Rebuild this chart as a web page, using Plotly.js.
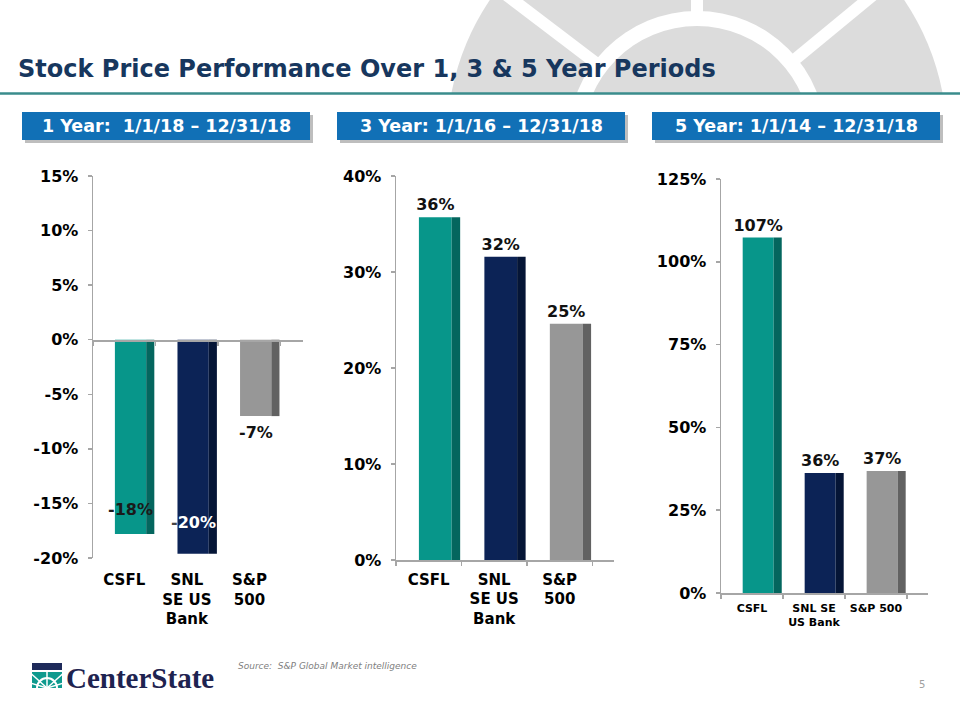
<!DOCTYPE html>
<html>
<head>
<meta charset="utf-8">
<script src="https://cdn.plot.ly/plotly-3.0.1.min.js"></script>
<style>html,body{margin:0;padding:0;background:#fff;}#chart{width:960px;height:720px;}</style>
</head>
<body>
<div id="chart"></div>
<script>
// ---------- data ----------
const CAT_IDX = [0, 1, 2];
const CATS_A = ['CSFL', 'SNL<br>SE US<br>Bank', 'S&P<br>500'];
const CATS_B = ['CSFL', 'SNL SE<br>US Bank', 'S&P 500'];

const Y1_VALUES = [-17.8, -19.6, -7.0];
const Y1_LABELS = ['-18%', '-20%', '-7%'];
const Y3_VALUES = [35.7, 31.6, 24.6];
const Y3_LABELS = ['36%', '32%', '25%'];
const Y5_VALUES = [107.3, 36.2, 36.8];
const Y5_LABELS = ['107%', '36%', '37%'];

const Y1_TICKS = [-20, -15, -10, -5, 0, 5, 10, 15];
const Y1_TICKTEXT = ['-20%', '-15%', '-10%', '-5%', '0%', '5%', '10%', '15%'];
const Y3_TICKS = [0, 10, 20, 30, 40];
const Y3_TICKTEXT = ['0%', '10%', '20%', '30%', '40%'];
const Y5_TICKS = [0, 25, 50, 75, 100, 125];
const Y5_TICKTEXT = ['0%', '25%', '50%', '75%', '100%', '125%'];

const PANEL_TITLES = ['1 Year:\u00a0 1/1/18 \u2013 12/31/18', '3 Year: 1/1/16 \u2013 12/31/18', '5 Year: 1/1/14 \u2013 12/31/18'];

// ---------- style ----------
const FRONT = ['#07968A', '#0C2356', '#979797'];
const SIDE = ['#04665E', '#051536', '#626262'];
const FONT = 'DejaVu Sans, Verdana, sans-serif';
const AXC = '#A6A6A6';
const W = 960, H = 720;
const px = v => v / W;
const py = v => 1 - v / H;

function barPair(vals, xa, ya, text, sideXa) {
  const front = {
    type: 'bar', x: CAT_IDX, y: vals, xaxis: xa, yaxis: ya,
    width: 0.5, offset: -0.15,
    marker: {color: FRONT, line: {width: 0}},
    hoverinfo: 'skip', cliponaxis: false
  };
  if (text) {
    front.text = text;
    front.textposition = 'outside';
    front.textangle = 0;
    front.constraintext = 'none';
    front.textfont = {family: FONT, size: 16, weight: 700, color: '#111'};
  }
  const side = {
    type: 'bar', x: CAT_IDX, y: vals, xaxis: sideXa || xa, yaxis: ya,
    width: 0.13, offset: 0.35,
    marker: {color: SIDE, line: {width: 0}},
    hoverinfo: 'skip', cliponaxis: false
  };
  return [front, side];
}

const data = [
  ...barPair(Y1_VALUES, 'x', 'y', null, 'x4'),
  ...barPair(Y3_VALUES, 'x2', 'y2', Y3_LABELS),
  ...barPair(Y5_VALUES, 'x3', 'y3', Y5_LABELS)
];

function yax(domain, range, tv, tt) {
  return {
    domain: domain, range: range, tickvals: tv, ticktext: tt,
    showline: true, linecolor: AXC, linewidth: 1.5,
    ticks: 'outside', ticklen: 4, tickcolor: AXC, tickwidth: 1.5,
    showgrid: false, zeroline: false, fixedrange: true,
    tickfont: {family: FONT, size: 16, weight: 700, color: '#000'},
    ticklabelstandoff: 6
  };
}
function xax(domain, anchor, ticktext, size, showline, rangeMax, standoff) {
  return {
    domain: domain, anchor: anchor, range: [-0.5, rangeMax],
    tickmode: 'array', tickvals: CAT_IDX, ticktext: ticktext, ticks: '',
    showline: showline, linecolor: AXC, linewidth: 1.5,
    showgrid: false, zeroline: false, fixedrange: true,
    tickfont: {family: FONT, size: size, weight: 700, color: '#000'},
    ticklabelstandoff: standoff,
    minor: showline ? {tickvals: [-0.5, 0.5, 1.5, 2.5], ticks: 'outside', ticklen: 4, tickcolor: AXC, tickwidth: 1.5, showgrid: false} : undefined
  };
}

// ---------- decorative shapes ----------
const shapes = [];
const CX = 697, CY = 140;
function circ(r, color) {
  shapes.push({type: 'circle', xref: 'paper', yref: 'paper', layer: 'below',
    x0: px(CX - r), x1: px(CX + r), y0: py(CY + r), y1: py(CY - r),
    fillcolor: color, line: {width: 0}});
}
circ(250, '#DCDCDC');
circ(129, '#FFFFFF');
circ(114, '#DCDCDC');
[[0, -1], [-184, -140], [170, -140]].forEach(d => {
  const L = Math.hypot(d[0], d[1]);
  const ux = d[0] / L, uy = d[1] / L;
  shapes.push({type: 'line', xref: 'paper', yref: 'paper', layer: 'below',
    x0: px(CX + ux * 125), y0: py(CY + uy * 125), x1: px(CX + ux * 270), y1: py(CY + uy * 270),
    line: {color: '#FFFFFF', width: 12}});
});
shapes.push({type: 'rect', xref: 'paper', yref: 'paper', layer: 'below',
  x0: 0, x1: 1, y0: 0, y1: py(94), fillcolor: '#FFFFFF', line: {width: 0}});
shapes.push({type: 'line', xref: 'paper', yref: 'paper', layer: 'below',
  x0: 0, x1: 1, y0: py(93.5), y1: py(93.5), line: {color: '#3A8C8C', width: 2.5}});

// header boxes
const BOXES = [[22, 310], [337, 625], [652, 940]];
const annotations = [];
BOXES.forEach((b, i) => {
  shapes.push({type: 'rect', xref: 'paper', yref: 'paper', layer: 'below',
    x0: px(b[0] + 3), x1: px(b[1] + 3), y0: py(143), y1: py(115),
    fillcolor: 'rgba(110,110,110,0.45)', line: {width: 0}});
  shapes.push({type: 'rect', xref: 'paper', yref: 'paper', layer: 'below',
    x0: px(b[0]), x1: px(b[1]), y0: py(140), y1: py(112),
    fillcolor: '#1170B6', line: {width: 0}});
  annotations.push({xref: 'paper', yref: 'paper', x: px((b[0] + b[1]) / 2), y: py(126.5),
    xanchor: 'center', yanchor: 'middle', showarrow: false, text: PANEL_TITLES[i],
    font: {family: FONT, size: 17.5, weight: 700, color: '#FFFFFF'}});
});

// logo icon
shapes.push({type: 'rect', xref: 'paper', yref: 'paper', layer: 'above',
  x0: px(32), x1: px(62), y0: py(670), y1: py(663), fillcolor: '#1E2A5A', line: {width: 0}});
shapes.push({type: 'rect', xref: 'paper', yref: 'paper', layer: 'above',
  x0: px(32), x1: px(62), y0: py(688), y1: py(672), fillcolor: '#0E9A8E', line: {width: 0}});
shapes.push({type: 'circle', xref: 'paper', yref: 'paper', layer: 'above',
  x0: px(37), x1: px(57), y0: py(698), y1: py(678), fillcolor: 'rgba(0,0,0,0)', line: {color: '#FFFFFF', width: 2}});
[[-1, -0.9], [0, -1], [1, -0.9], [-1, -0.3], [1, -0.3]].forEach(d => {
  shapes.push({type: 'line', xref: 'paper', yref: 'paper', layer: 'above',
    x0: px(47), y0: py(688), x1: px(47 + d[0] * 18), y1: py(688 + d[1] * 18),
    line: {color: '#FFFFFF', width: 1.5}});
});
shapes.push({type: 'rect', xref: 'paper', yref: 'paper', layer: 'above',
  x0: px(28), x1: px(32), y0: py(700), y1: py(660), fillcolor: '#FFFFFF', line: {width: 0}});
shapes.push({type: 'rect', xref: 'paper', yref: 'paper', layer: 'above',
  x0: px(62), x1: px(66), y0: py(700), y1: py(660), fillcolor: '#FFFFFF', line: {width: 0}});
shapes.push({type: 'rect', xref: 'paper', yref: 'paper', layer: 'above',
  x0: px(28), x1: px(66), y0: py(700), y1: py(688), fillcolor: '#FFFFFF', line: {width: 0}});

annotations.push({xref: 'paper', yref: 'paper', x: px(64), y: py(678), xanchor: 'left', yanchor: 'middle',
  showarrow: false, text: '<b>CenterState</b>',
  font: {family: 'Liberation Serif, serif', size: 29, color: '#1E2350'}});
annotations.push({xref: 'paper', yref: 'paper', x: px(236), y: py(666), xanchor: 'left', yanchor: 'middle',
  showarrow: false, text: '<i>Source:\u00a0 S&amp;P Global Market intelligence</i>',
  font: {family: FONT, size: 9, color: '#808080'}});
annotations.push({xref: 'paper', yref: 'paper', x: px(922), y: py(684), xanchor: 'center', yanchor: 'middle',
  showarrow: false, text: '5', font: {family: FONT, size: 10, color: '#A0A0A0'}});

// chart 1 data labels (positioned by data scale)
const Y1_SHIFT = [24, 31, -16];
const Y1_COLORS = ['#1A1A1A', '#FFFFFF', '#111111'];
Y1_VALUES.forEach((v, i) => {
  let txt = Y1_LABELS[i];
  if (Y1_COLORS[i] === '#FFFFFF') {
    // the leading minus sits outside the dark bar, so it is drawn dark
    txt = '<span style="color:#444">' + txt.charAt(0) + '</span>' + txt.slice(1);
  }
  annotations.push({xref: 'x', yref: 'y', x: CAT_IDX[i] + 0.1, y: v, yshift: Y1_SHIFT[i],
    xanchor: 'center', yanchor: 'middle', showarrow: false, text: txt,
    font: {family: FONT, size: 16, weight: 700, color: Y1_COLORS[i]}});
});

const layout = {
  width: W, height: H,
  margin: {l: 0, r: 0, t: 0, b: 0},
  paper_bgcolor: '#FFFFFF', plot_bgcolor: 'rgba(0,0,0,0)',
  showlegend: false, barmode: 'overlay',
  title: {text: 'Stock Price Performance Over 1, 3 &amp; 5 Year Periods', x: px(18), xanchor: 'left',
    y: py(69), yanchor: 'middle', xref: 'paper', yref: 'paper',
    font: {family: FONT, size: 24, weight: 700, color: '#17375E'}},
  xaxis: xax([px(93), px(303)], 'y', CATS_A, 15, false, 2.856, 11),
  xaxis4: {overlaying: 'x', anchor: 'free', position: py(340), range: [-0.5, 2.856],
    showline: true, linecolor: AXC, linewidth: 1.5, tickmode: 'array', tickvals: [-0.5, 0.5, 1.5, 2.5],
    ticks: 'outside', ticklen: 4, tickcolor: AXC, tickwidth: 1.5, showticklabels: false,
    showgrid: false, zeroline: false, fixedrange: true},
  yaxis: yax([py(558), py(176)], [-20, 15], Y1_TICKS, Y1_TICKTEXT),
  xaxis2: xax([px(396), px(614)], 'y2', CATS_A, 15, true, 2.83, 5),
  yaxis2: Object.assign(yax([py(560), py(176)], [0, 40], Y3_TICKS, Y3_TICKTEXT), {anchor: 'x2'}),
  xaxis3: xax([px(721), px(928)], 'y3', CATS_B, 11, true, 2.84, 4),
  yaxis3: Object.assign(yax([py(593), py(179)], [0, 125], Y5_TICKS, Y5_TICKTEXT), {anchor: 'x3'}),
  shapes: shapes,
  annotations: annotations
};
layout.yaxis.anchor = 'x';

Plotly.newPlot('chart', data, layout, {displayModeBar: false, staticPlot: true});
</script>
</body>
</html>
